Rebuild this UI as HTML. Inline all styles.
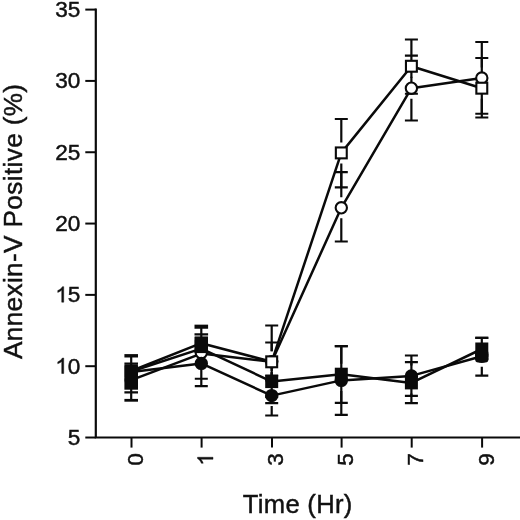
<!DOCTYPE html>
<html><head><meta charset="utf-8"><title>chart</title>
<style>
html,body{margin:0;padding:0;background:#fff;}
body{width:520px;height:520px;overflow:hidden;}
svg{display:block;will-change:transform;opacity:0.999;}
text{font-family:"Liberation Sans",sans-serif;fill:#111;stroke:#111;stroke-width:0.45px;}
</style></head><body>
<svg width="520" height="520" viewBox="0 0 520 520">
<rect width="520" height="520" fill="#fff"/>

<g stroke="#0a0a0a" fill="none">
<path d="M95.8 8.6V437.5H520" stroke-width="2.2" stroke-linejoin="miter"/>
<path d="M85.3 9.60H95.8" stroke-width="2"/>
<path d="M85.3 80.92H95.8" stroke-width="2"/>
<path d="M85.3 152.24H95.8" stroke-width="2"/>
<path d="M85.3 223.56H95.8" stroke-width="2"/>
<path d="M85.3 294.88H95.8" stroke-width="2"/>
<path d="M85.3 366.20H95.8" stroke-width="2"/>
<path d="M85.3 437.52H95.8" stroke-width="2"/>
<path d="M131.50 437.5V447.6" stroke-width="2"/>
<path d="M201.60 437.5V447.6" stroke-width="2"/>
<path d="M272.00 437.5V447.6" stroke-width="2"/>
<path d="M341.60 437.5V447.6" stroke-width="2"/>
<path d="M411.70 437.5V447.6" stroke-width="2"/>
<path d="M482.10 437.5V447.6" stroke-width="2"/>
</g>
<g transform="translate(80.4 16.90) scale(1.045 1)">
<text x="0" y="0" font-size="21.6" text-anchor="end">35</text>
</g>
<g transform="translate(80.4 88.22) scale(1.045 1)">
<text x="0" y="0" font-size="21.6" text-anchor="end">30</text>
</g>
<g transform="translate(80.4 159.54) scale(1.045 1)">
<text x="0" y="0" font-size="21.6" text-anchor="end">25</text>
</g>
<g transform="translate(80.4 230.86) scale(1.045 1)">
<text x="0" y="0" font-size="21.6" text-anchor="end">20</text>
</g>
<g transform="translate(80.4 302.18) scale(1.045 1)">
<text x="0" y="0" font-size="21.6" text-anchor="end">5</text>
<path transform="translate(-24.02 0.00) rotate(0) scale(0.02160 -0.02160)" d="M373 0H285V560Q253 530 202 499T109 453V538Q183 573 238 622T316 718H373Z" fill="#111" stroke="#111" stroke-width="20.8"/>
</g>
<g transform="translate(80.4 373.50) scale(1.045 1)">
<text x="0" y="0" font-size="21.6" text-anchor="end">0</text>
<path transform="translate(-24.02 0.00) rotate(0) scale(0.02160 -0.02160)" d="M373 0H285V560Q253 530 202 499T109 453V538Q183 573 238 622T316 718H373Z" fill="#111" stroke="#111" stroke-width="20.8"/>
</g>
<g transform="translate(80.4 444.82) scale(1.045 1)">
<text x="0" y="0" font-size="21.6" text-anchor="end">5</text>
</g>
<text transform="translate(142.90 459.40) rotate(-90) scale(1.045 1)" font-size="21.6" text-anchor="middle">0</text>
<path transform="translate(213.00 465.68) rotate(-90) scale(0.02257 -0.02160)" d="M373 0H285V560Q253 530 202 499T109 453V538Q183 573 238 622T316 718H373Z" fill="#111" stroke="#111" stroke-width="20.8"/>
<text transform="translate(283.40 459.40) rotate(-90) scale(1.045 1)" font-size="21.6" text-anchor="middle">3</text>
<text transform="translate(353.00 459.40) rotate(-90) scale(1.045 1)" font-size="21.6" text-anchor="middle">5</text>
<text transform="translate(423.10 459.40) rotate(-90) scale(1.045 1)" font-size="21.6" text-anchor="middle">7</text>
<text transform="translate(493.50 459.40) rotate(-90) scale(1.045 1)" font-size="21.6" text-anchor="middle">9</text>
<text x="297.7" y="512.5" font-size="25.6" letter-spacing="0.3" text-anchor="middle">Time (Hr)</text>
<text transform="translate(21.6 221.3) rotate(-90)" font-size="26.2" letter-spacing="0.35" text-anchor="middle">Annexin-V Positive (%)</text>
<g stroke="#0a0a0a" stroke-width="2.2" fill="none">
<path d="M265.20 325.5H278.20M265.20 397H278.20M271.70 325.5V351.30M271.70 372.30V397"/>
<path d="M265.20 342.5H278.20M265.20 380.5H278.20M271.70 342.5V351.30M271.70 372.30V380.5"/>
<path d="M265.20 361H278.20M265.20 403.1H278.20M271.70 361V371.10M271.70 392.10V403.1"/>
<path d="M265.20 375.5H278.20M265.20 415.5H278.20M271.70 375.5V385.10M271.70 406.10V415.5"/>
<path d="M334.80 119H347.80M334.80 187.3H347.80M341.30 119V142.40M341.30 163.40V187.3"/>
<path d="M334.80 172.2H347.80M334.80 241.5H347.80M341.30 172.2V197.30M341.30 218.30V241.5"/>
<path d="M334.80 346.1H347.80M334.80 402.8H347.80M341.30 346.1V363.70M341.30 384.70V402.8"/>
<path d="M334.80 346.1H347.80M334.80 414.8H347.80M341.30 346.1V369.90M341.30 390.90V414.8"/>
<path d="M404.90 39.5H417.90M404.90 93.75H417.90M411.40 39.5V55.75M411.40 76.75V93.75"/>
<path d="M404.90 55.7H417.90M404.90 120.5H417.90M411.40 55.7V77.70M411.40 98.70V120.5"/>
<path d="M404.90 362.2H417.90M404.90 403.1H417.90M411.40 362.2V372.40M411.40 393.40V403.1"/>
<path d="M404.90 355.5H417.90M404.90 395.9H417.90M411.40 355.5V365.40M411.40 386.40V395.9"/>
<path d="M475.30 42H488.30M475.30 113.75H488.30M481.80 42V67.50M481.80 88.50V113.75"/>
<path d="M475.30 58H488.30M475.30 117.5H488.30M481.80 58V77.70M481.80 98.70V117.5"/>
<path d="M475.30 337.9H488.30M475.30 359H488.30M481.80 337.9V338.50"/>
<path d="M475.30 337.9H488.30M475.30 375.6H488.30M481.80 337.9V345.70M481.80 366.70V375.6"/>
<path d="M271.70 367V376"/>
<path d="M124.40 363.6H138.00M124.40 392.3H138.00M131.20 355.8V366M131.20 389V400.3"/>
<path d="M124.40 355.8H138.00" stroke-width="3.4"/>
<path d="M124.40 400.3H138.00" stroke-width="2.8"/>
<path d="M194.50 334.4H208.10M194.80 378.75H207.80M194.80 386.2H207.80M201.30 326.5V338M201.30 368V386.2"/>
<path d="M194.50 326.7H208.10" stroke-width="4.1"/>
</g>
<g stroke="#0a0a0a" stroke-width="2.5" fill="none" stroke-linejoin="round">
<polyline points="131.20,380.20 201.30,353.60 271.70,361.80 341.30,207.80 411.40,88.20 481.80,78.00"/>
<polyline points="131.20,371.00 201.30,343.20 271.70,361.80 341.30,152.90 411.40,66.25 481.80,88.20"/>
<polyline points="131.20,372.00 201.30,363.40 271.70,395.60 341.30,380.40 411.40,375.90 481.80,356.20"/>
<polyline points="131.20,371.50 201.30,348.60 271.70,381.60 341.30,374.20 411.40,382.90 481.80,349.00"/>
</g>
<circle cx="131.20" cy="380.20" r="5.65" fill="#fff" stroke="#0a0a0a" stroke-width="2.1"/>
<circle cx="201.30" cy="352.80" r="5.65" fill="#fff" stroke="#0a0a0a" stroke-width="2.1"/>
<circle cx="271.70" cy="361.80" r="5.65" fill="#fff" stroke="#0a0a0a" stroke-width="2.1"/>
<circle cx="341.30" cy="207.80" r="5.65" fill="#fff" stroke="#0a0a0a" stroke-width="2.1"/>
<circle cx="411.40" cy="88.20" r="5.65" fill="#fff" stroke="#0a0a0a" stroke-width="2.1"/>
<circle cx="481.80" cy="78.00" r="5.65" fill="#fff" stroke="#0a0a0a" stroke-width="2.1"/>
<rect x="125.75" y="365.55" width="10.9" height="10.9" fill="#fff" stroke="#0a0a0a" stroke-width="2.1"/>
<rect x="195.85" y="337.75" width="10.9" height="10.9" fill="#fff" stroke="#0a0a0a" stroke-width="2.1"/>
<rect x="266.25" y="356.35" width="10.9" height="10.9" fill="#fff" stroke="#0a0a0a" stroke-width="2.1"/>
<rect x="335.85" y="147.45" width="10.9" height="10.9" fill="#fff" stroke="#0a0a0a" stroke-width="2.1"/>
<rect x="405.95" y="60.80" width="10.9" height="10.9" fill="#fff" stroke="#0a0a0a" stroke-width="2.1"/>
<rect x="476.35" y="82.75" width="10.9" height="10.9" fill="#fff" stroke="#0a0a0a" stroke-width="2.1"/>
<circle cx="201.30" cy="363.40" r="5.65" fill="#0a0a0a" stroke="#0a0a0a" stroke-width="2.1"/>
<circle cx="271.70" cy="395.60" r="5.65" fill="#0a0a0a" stroke="#0a0a0a" stroke-width="2.1"/>
<circle cx="341.30" cy="380.40" r="5.65" fill="#0a0a0a" stroke="#0a0a0a" stroke-width="2.1"/>
<circle cx="411.40" cy="375.90" r="5.65" fill="#0a0a0a" stroke="#0a0a0a" stroke-width="2.1"/>
<circle cx="481.80" cy="356.20" r="5.65" fill="#0a0a0a" stroke="#0a0a0a" stroke-width="2.1"/>
<rect x="195.85" y="341.15" width="10.9" height="10.9" fill="#0a0a0a" stroke="#0a0a0a" stroke-width="2.1"/>
<rect x="266.25" y="376.15" width="10.9" height="10.9" fill="#0a0a0a" stroke="#0a0a0a" stroke-width="2.1"/>
<rect x="335.85" y="368.75" width="10.9" height="10.9" fill="#0a0a0a" stroke="#0a0a0a" stroke-width="2.1"/>
<rect x="405.95" y="377.45" width="10.9" height="10.9" fill="#0a0a0a" stroke="#0a0a0a" stroke-width="2.1"/>
<rect x="476.35" y="343.55" width="10.9" height="10.9" fill="#0a0a0a" stroke="#0a0a0a" stroke-width="2.1"/>
<rect x="124.40" y="365.2" width="13.6" height="24.5" fill="#0a0a0a"/>
<rect x="194.60" y="336.6" width="13.4" height="16.4" fill="#0a0a0a"/>
<rect x="475.20" y="350" width="13.2" height="12.4" rx="3" fill="#0a0a0a"/>
</svg></body></html>
